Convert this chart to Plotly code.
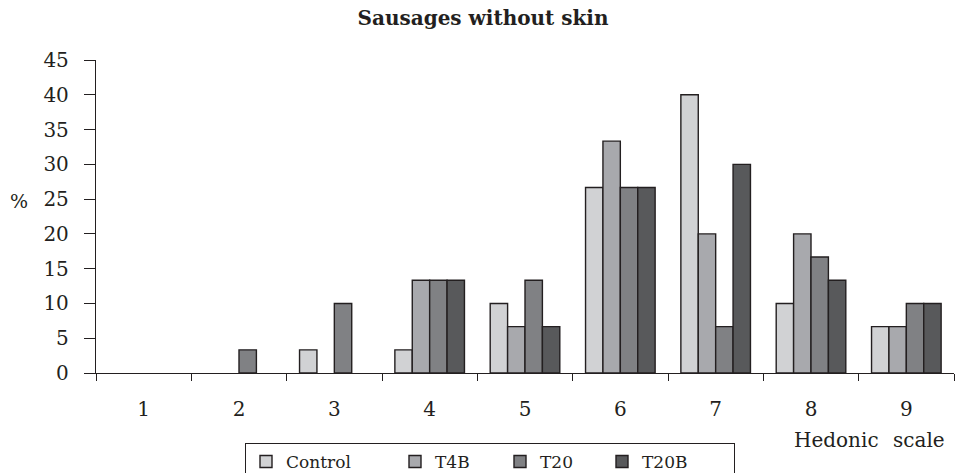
import plotly.graph_objects as go

categories = ["1", "2", "3", "4", "5", "6", "7", "8", "9"]
control = [0, 0, 3.33, 3.33, 10, 26.67, 40, 10, 6.67]
t4b = [0, 0, 0, 13.33, 6.67, 33.33, 20, 20, 6.67]
t20 = [0, 3.33, 10, 13.33, 13.33, 26.67, 6.67, 16.67, 10]
t20b = [0, 0, 0, 13.33, 6.67, 26.67, 30, 13.33, 10]
y_ticks = [0, 5, 10, 15, 20, 25, 30, 35, 40, 45]

series = [
    ("Control", control, "#d1d2d4", 104),
    ("T4B", t4b, "#a8a9ad", 60),
    ("T20", t20, "#808184", 57),
    ("T20B", t20b, "#58595b", 87),
]

FONT = "DejaVu Serif"
INK = "#231f20"

W, H = 955, 473
L, R, T, B = 96, 1, 60, 100
PW, PH = W - L - R, H - T - B


def px_x(x):
    return (x - L) / PW


def px_y(y):
    return (H - B - y) / PH


fig = go.Figure()
for name, vals, color, lw in series:
    fig.add_trace(go.Bar(
        x=categories, y=[v if v > 0 else None for v in vals], name=name,
        marker=dict(color=color, line=dict(color=INK, width=1.4)),
        legendwidth=lw,
    ))

fig.update_layout(
    width=W, height=H,
    margin=dict(l=L, r=R, t=T, b=B),
    plot_bgcolor="white", paper_bgcolor="white",
    barmode="group", bargap=0.27, bargroupgap=0,
    font=dict(family=FONT, size=20, color=INK),
    title=dict(text="<b>Sausages without skin</b>", x=483/W, xref="container",
               xanchor="center", y=1 - 18/H, yanchor="middle",
               font=dict(family=FONT, size=20, color=INK)),
    showlegend=True,
    legend=dict(orientation="h", xref="container", yref="container",
                x=245/W, xanchor="left", y=1 - 443/H, yanchor="top",
                bordercolor=INK, borderwidth=1, bgcolor="white",
                font=dict(family=FONT, size=17, color=INK),
                traceorder="normal", itemclick=False),
    xaxis=dict(type="category", showline=True, linecolor=INK, linewidth=1.3,
               ticks="outside", tickson="boundaries", ticklen=7, tickcolor=INK,
               tickwidth=1.3, ticklabelstandoff=18, showgrid=False, zeroline=False,
               fixedrange=True),
    yaxis=dict(range=[0, 45], tickvals=y_ticks, showline=True, linecolor=INK,
               linewidth=1.3, ticks="outside", ticklen=11, tickcolor=INK,
               tickwidth=1.3, ticklabelstandoff=11, showgrid=False, zeroline=False,
               fixedrange=True),
)

fig.add_annotation(text="%", xref="paper", yref="paper", x=px_x(19), y=px_y(201),
                   showarrow=False, font=dict(family=FONT, size=19, color=INK),
                   xanchor="center", yanchor="middle")
fig.add_annotation(text="Hedonic", xref="paper", yref="paper",
                   x=px_x(792), y=px_y(440), xanchor="left", yanchor="middle",
                   showarrow=False, font=dict(family=FONT, size=20, color=INK))
fig.add_annotation(text="scale", xref="paper", yref="paper",
                   x=px_x(947), y=px_y(440), xanchor="right", yanchor="middle",
                   showarrow=False, font=dict(family=FONT, size=20, color=INK))

fig.write_html("out.html", config={"displayModeBar": False},
               post_script="document.body.style.margin='0';")
